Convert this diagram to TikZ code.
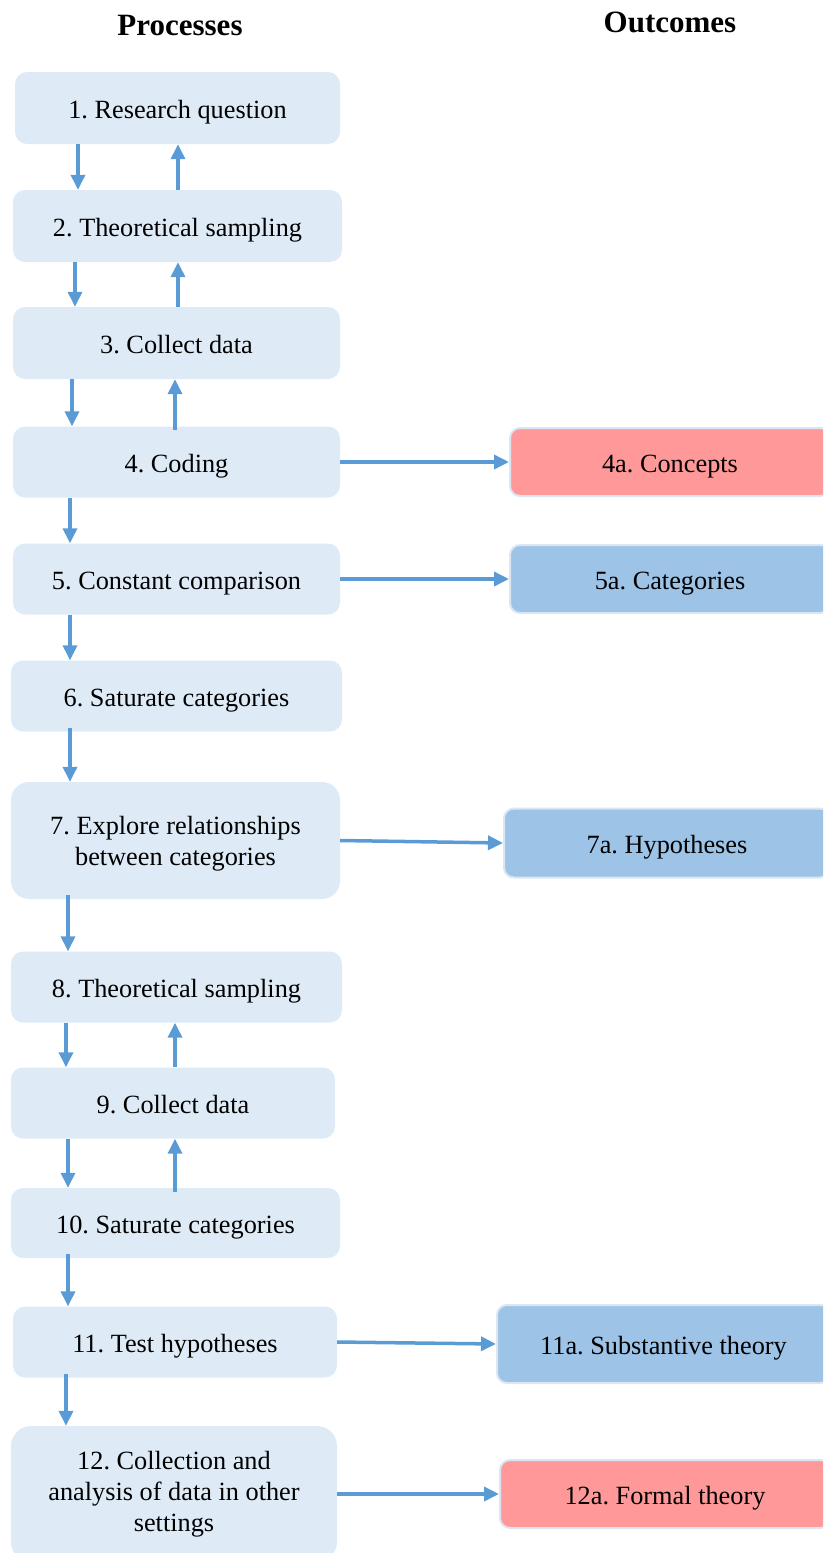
\documentclass[tikz,border=0pt]{standalone}
\usepackage{fontspec}
\setmainfont{Liberation Serif}
\frenchspacing
\usetikzlibrary{arrows.meta}
\definecolor{pfill}{HTML}{DEEBF7}
\definecolor{bfill}{HTML}{9DC3E6}
\definecolor{rfill}{HTML}{FF9999}
\definecolor{oedge}{HTML}{DAE6F4}
\definecolor{arrc}{HTML}{5B9BD5}
\tikzset{
  pbox/.style={fill=pfill, draw=none, rounded corners=12pt, align=center, inner sep=0pt,
    font=\fontsize{26.3}{31}\selectfont\frenchspacing, text height=26pt, text depth=6pt},
  obox/.style={draw=oedge, line width=2pt, rounded corners=10pt, align=center, inner sep=0pt,
    font=\fontsize{26.3}{31}\selectfont\frenchspacing, text height=26pt, text depth=6pt},
  arr/.style={draw=arrc, line width=3.5pt, -{Triangle[length=15pt,width=14pt]}},
  ttl/.style={font=\fontsize{31}{36}\selectfont\bfseries}
}
\begin{document}
\begin{tikzpicture}[x=1pt,y=-1pt]
\useasboundingbox (0,0) rectangle (823,1553);
\clip (0,0) rectangle (823,1553);
% titles
\node[ttl] (tp) at (180,25) {Processes};
\node[ttl] (to) at (670,22) {Outcomes};
% process boxes
\node[pbox, minimum width=325, minimum height=72] (n1) at (177.5,108) {1. Research question};
\node[pbox, minimum width=329, minimum height=72] (n2) at (177.5,226) {2. Theoretical sampling};
\node[pbox, minimum width=327, minimum height=72] (n3) at (176.5,343) {3. Collect data};
\node[pbox, minimum width=327, minimum height=71] (n4) at (176.5,462) {4. Coding};
\node[pbox, minimum width=327, minimum height=71] (n5) at (176.5,579) {5. Constant comparison};
\node[pbox, minimum width=331, minimum height=71] (n6) at (176.5,696) {6. Saturate categories};
\node[pbox, minimum width=329, minimum height=117, rounded corners=18pt, text height=56pt, text depth=6pt] (n7) at (175.5,840.5) {7. Explore relationships\\between categories};
\node[pbox, minimum width=331, minimum height=71] (n8) at (176.5,987) {8. Theoretical sampling};
\node[pbox, minimum width=324, minimum height=71] (n9) at (173,1103) {9. Collect data};
\node[pbox, minimum width=329, minimum height=70] (n10) at (175.5,1223) {10. Saturate categories};
\node[pbox, minimum width=324, minimum height=71] (n11) at (175,1342) {11. Test hypotheses};
\node[pbox, minimum width=326, minimum height=136, rounded corners=20pt, text height=80pt, text depth=6pt] (n12) at (174,1494) {12. Collection and\\analysis of data in other\\settings};
% outcome boxes
\node[obox, fill=rfill, minimum width=320, minimum height=68] (o4) at (670,462) {4a. Concepts};
\node[obox, fill=bfill, minimum width=320, minimum height=68] (o5) at (670,579) {5a. Categories};
\node[obox, fill=bfill, minimum width=326, minimum height=69] (o7) at (667,843) {7a. Hypotheses};
\node[obox, fill=bfill, minimum width=333, minimum height=78] (o11) at (663.5,1344) {11a. Substantive theory};
\node[obox, fill=rfill, minimum width=330, minimum height=68] (o12) at (665,1494) {12a. Formal theory};
% vertical arrows down
\draw[arr] (n1.south -| 78,0) -- (n2.north -| 78,0);
\draw[arr] (n2.south -| 75,0) -- (n3.north -| 75,0);
\draw[arr] (n3.south -| 72,0) -- (n4.north -| 72,0);
\draw[arr] (n4.south -| 70,0) -- (n5.north -| 70,0);
\draw[arr] (n5.south -| 70,0) -- (n6.north -| 70,0);
\draw[arr] ([yshift=4]n6.south -| 70,0) -- (n7.north -| 70,0);
\draw[arr] ([yshift=4]n7.south -| 68,0) -- (n8.north -| 68,0);
\draw[arr] (n8.south -| 66,0) -- (n9.north -| 66,0);
\draw[arr] (n9.south -| 68,0) -- (n10.north -| 68,0);
\draw[arr] ([yshift=4]n10.south -| 68,0) -- (n11.north -| 68,0);
\draw[arr] ([yshift=4]n11.south -| 66,0) -- (n12.north -| 66,0);
% vertical arrows up
\draw[arr] (n2.north -| 178,0) -- (n1.south -| 178,0);
\draw[arr] (n3.north -| 178,0) -- (n2.south -| 178,0);
\draw[arr] ([yshift=-4]n4.north -| 175,0) -- (n3.south -| 175,0);
\draw[arr] (n9.north -| 175,0) -- (n8.south -| 175,0);
\draw[arr] ([yshift=-4]n10.north -| 175,0) -- (n9.south -| 175,0);
% horizontal arrows
\draw[arr] (n4.east) -- (o4.west);
\draw[arr] (n5.east) -- (o5.west);
\draw[arr] (n7.east) -- (o7.west);
\draw[arr] (n11.east) -- (o11.west);
\draw[arr] (n12.east) -- (o12.west);
\end{tikzpicture}
\end{document}
